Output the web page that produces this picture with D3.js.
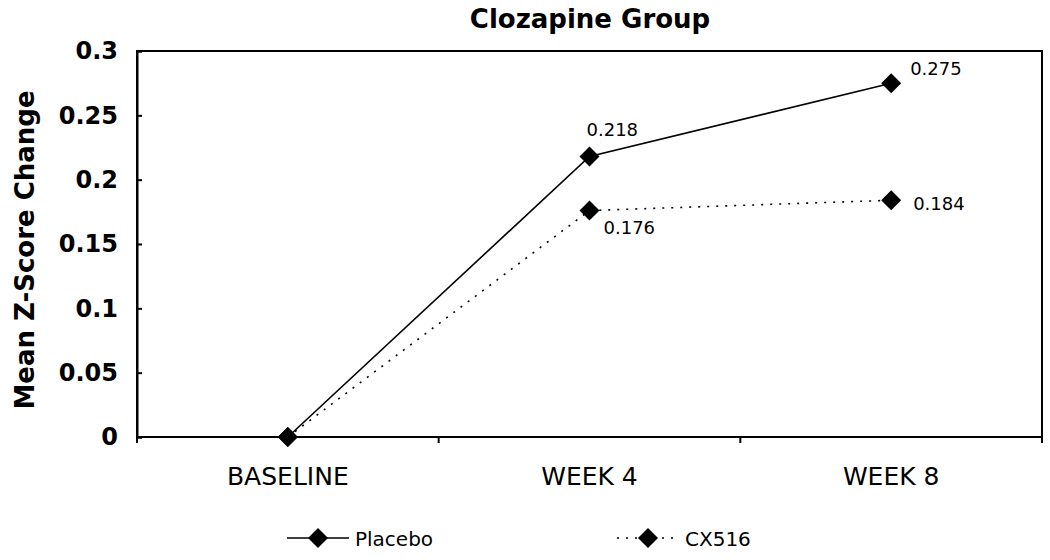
<!DOCTYPE html>
<html><head><meta charset="utf-8">
<script src="https://cdn.jsdelivr.net/npm/d3@7"></script>
<style>body{margin:0;background:#fff}</style>
</head><body>
<svg id="c" width="1050" height="560"></svg>
<script>
const categories = ["BASELINE", "WEEK 4", "WEEK 8"];
const placebo = [0, 0.218, 0.275];
const cx516 = [0, 0.176, 0.184];
const placeboLabels = [null, "0.218", "0.275"];
const cx516Labels = [null, "0.176", "0.184"];
const yTicks = [0, 0.05, 0.1, 0.15, 0.2, 0.25, 0.3];
const seriesNames = ["Placebo", "CX516"];

const svg = d3.select("#c");
const m = {l: 137, r: 1042, t: 51, b: 437};
const x = d3.scaleBand().domain(categories).range([m.l, m.r]);
const y = d3.scaleLinear().domain([0, 0.3]).range([m.b, m.t]);
const font = "Tahoma, 'DejaVu Sans', Verdana, sans-serif";
const DOT = "2,7";

// plot border
svg.append("rect").attr("x", m.l).attr("y", m.t).attr("width", m.r - m.l).attr("height", m.b - m.t)
  .attr("fill", "none").attr("stroke", "#000").attr("stroke-width", 2);

// y axis
const ya = svg.append("g").attr("transform", `translate(${m.l},0)`)
  .call(d3.axisLeft(y).tickValues(yTicks).tickSize(-5).tickPadding(19).tickFormat(d => String(+d.toFixed(2))));
ya.select(".domain").attr("stroke-width", 2);
ya.selectAll("line").attr("stroke-width", 2);
ya.selectAll("text").attr("font-family", font).attr("font-weight", "bold").attr("font-size", 24).attr("fill", "#000");

// x axis
const xa = svg.append("g").attr("transform", `translate(0,${m.b})`)
  .call(d3.axisBottom(x).tickSize(0).tickPadding(30));
xa.select(".domain").remove();
xa.selectAll("text").attr("font-family", font).attr("font-size", 25).attr("fill", "#000");
const bounds = [m.l, ...categories.map(c => x(c) + x.bandwidth())];
svg.append("g").selectAll("line").data(bounds).join("line")
  .attr("x1", d => d).attr("x2", d => d).attr("y1", m.b).attr("y2", m.b + 6)
  .attr("stroke", "#000").attr("stroke-width", 2);

const cxp = c => x(c) + x.bandwidth() / 2;
const line = d3.line().x((d, i) => cxp(categories[i])).y(d => y(d));
const diamondPath = d3.symbol().type(d3.symbolSquare).size(200);

function drawSeries(vals, dash) {
  svg.append("path").datum(vals).attr("d", line).attr("fill", "none").attr("stroke", "#000")
    .attr("stroke-width", 1.6).attr("stroke-dasharray", dash);
  svg.append("g").selectAll("path").data(vals).join("path")
    .attr("d", diamondPath)
    .attr("transform", (d, i) => `translate(${cxp(categories[i])},${y(d)}) rotate(45)`)
    .attr("fill", "#000");
}
drawSeries(placebo, null);
drawSeries(cx516, DOT);

// data labels (offsets in px from the point)
const placeboOff = [null, [-3, -21], [19, -8]];
const cx516Off = [null, [14, 23], [22, 10]];
function drawLabels(vals, labels, offs) {
  vals.forEach((v, i) => {
    if (labels[i] === null) return;
    const o = offs[i];
    svg.append("text").attr("x", cxp(categories[i]) + o[0]).attr("y", y(v) + o[1])
      .attr("font-family", font).attr("font-size", 18).attr("fill", "#000")
      .text(labels[i]);
  });
}
drawLabels(placebo, placeboLabels, placeboOff);
drawLabels(cx516, cx516Labels, cx516Off);

// title
svg.append("text").attr("x", 590).attr("y", 28).attr("text-anchor", "middle")
  .attr("font-family", font).attr("font-weight", "bold").attr("font-size", 26).text("Clozapine Group");

// y title
svg.append("text").attr("transform", `translate(34,${(m.t + m.b) / 2 + 6}) rotate(-90)`).attr("text-anchor", "middle")
  .attr("font-family", font).attr("font-weight", "bold").attr("font-size", 26).text("Mean Z-Score Change");

// legend
const legX = [287, 617];
const dashes = [null, DOT];
seriesNames.forEach((n, i) => {
  const g = svg.append("g").attr("transform", `translate(${legX[i]},538)`);
  g.append("line").attr("x1", 0).attr("x2", 62).attr("y1", 0).attr("y2", 0).attr("stroke", "#000")
    .attr("stroke-width", 1.6).attr("stroke-dasharray", dashes[i]);
  g.append("path").attr("d", diamondPath).attr("transform", "translate(31,0) rotate(45)");
  g.append("text").attr("x", 68).attr("y", 8).attr("font-family", font).attr("font-size", 20).text(n);
});
</script>
</body></html>
